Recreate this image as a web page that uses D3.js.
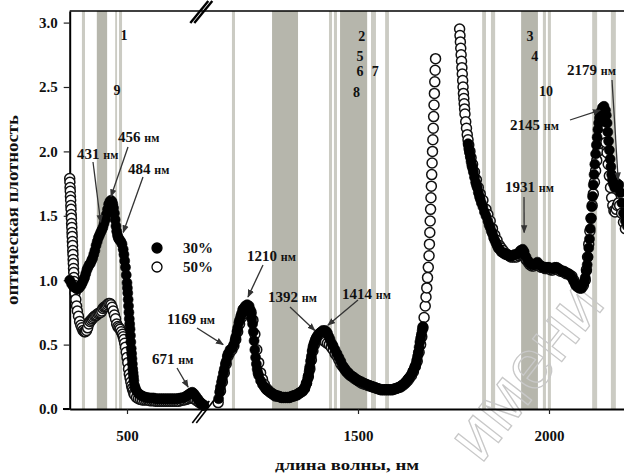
<!DOCTYPE html>
<html><head><meta charset="utf-8">
<script src="https://cdn.jsdelivr.net/npm/d3@7"></script>
<style>
body{margin:0;background:#fff}
svg{display:block}
text{font-family:"Liberation Serif","Times New Roman",serif;font-weight:bold;fill:#111}
</style>
</head><body>
<svg id="c" width="624" height="475"></svg>
<script>
// ---- data: [wavelength nm, optical density] ----
const s30_left = [[350,1.00],[355,0.97],[360,0.95],[365,0.94],[370,0.93],[375,0.94],[380,0.96],[383,0.98],[386,1.00],[389,1.02],[392,1.05],[395,1.08],[398,1.10],[401,1.12],[404,1.13],[407,1.15],[410,1.17],[413,1.20],[416,1.23],[419,1.27],[422,1.30],[425,1.33],[428,1.35],[431,1.37],[434,1.39],[437,1.41],[440,1.44],[443,1.47],[446,1.51],[449,1.55],[452,1.59],[455,1.61],[458,1.62],[461,1.61],[463,1.59],[465,1.56],[467,1.52],[469,1.47],[471,1.42],[473,1.38],[475,1.35],[477,1.33],[479,1.32],[481,1.31],[484,1.30],[487,1.28],[490,1.24],[492,1.20],[494,1.15],[496,1.10],[498,1.04],[500,0.98],[501,0.94],[502,0.90],[503,0.85],[504,0.80],[505,0.75],[506,0.70],[507,0.66],[508,0.62],[509,0.57],[510,0.52],[511,0.47],[512,0.43],[513,0.39],[514,0.35],[515,0.31],[516,0.28],[517,0.25],[518,0.22],[520,0.18],[522,0.16],[525,0.14],[530,0.12],[535,0.11],[540,0.10],[545,0.095],[550,0.09],[555,0.088],[560,0.085],[565,0.085],[570,0.085],[575,0.08],[580,0.08],[585,0.08],[590,0.08],[595,0.08],[600,0.08],[605,0.08],[610,0.08],[615,0.08],[620,0.08],[625,0.08],[630,0.08],[635,0.082],[640,0.085],[645,0.088],[650,0.09],[655,0.10],[660,0.11],[665,0.12],[668,0.125],[671,0.13],[675,0.12],[680,0.10],[685,0.08],[690,0.06],[695,0.04],[700,0.03]];
const s30_mid = [[1135,0.08],[1138,0.13],[1140,0.17],[1143,0.21],[1145,0.24],[1148,0.28],[1150,0.31],[1153,0.35],[1155,0.37],[1158,0.41],[1160,0.43],[1165,0.46],[1170,0.47],[1175,0.50],[1178,0.53],[1180,0.56],[1183,0.60],[1185,0.63],[1188,0.67],[1190,0.69],[1193,0.72],[1195,0.74],[1198,0.77],[1200,0.78],[1205,0.80],[1210,0.81],[1215,0.80],[1218,0.77],[1220,0.74],[1222,0.70],[1224,0.66],[1226,0.60],[1228,0.53],[1230,0.46],[1232,0.40],[1234,0.35],[1236,0.31],[1238,0.28],[1240,0.26],[1245,0.22],[1250,0.19],[1255,0.17],[1260,0.15],[1265,0.14],[1270,0.13],[1275,0.12],[1280,0.11],[1285,0.105],[1290,0.10],[1295,0.095],[1300,0.09],[1305,0.09],[1310,0.09],[1315,0.09],[1320,0.09],[1325,0.095],[1330,0.10],[1335,0.105],[1340,0.11],[1345,0.12],[1350,0.13],[1355,0.14],[1360,0.16],[1363,0.18],[1366,0.20],[1368,0.23],[1370,0.26],[1372,0.29],[1374,0.33],[1376,0.37],[1378,0.41],[1380,0.45],[1382,0.48],[1384,0.50],[1386,0.52],[1389,0.54],[1392,0.56],[1396,0.58],[1400,0.59],[1404,0.60],[1408,0.61],[1414,0.61],[1417,0.60],[1420,0.59],[1424,0.56],[1427,0.54],[1431,0.51],[1435,0.49],[1440,0.46],[1445,0.43],[1450,0.40],[1455,0.37],[1461,0.33],[1465,0.31],[1470,0.29],[1475,0.28],[1480,0.26],[1487,0.25],[1495,0.23],[1500,0.22],[1505,0.215],[1510,0.21],[1517,0.20],[1524,0.19],[1530,0.18],[1535,0.175],[1540,0.17],[1545,0.165],[1550,0.16],[1558,0.15],[1565,0.15],[1570,0.15],[1575,0.15],[1580,0.15],[1586,0.15],[1592,0.15],[1600,0.16],[1605,0.165],[1610,0.17],[1614,0.18],[1618,0.19],[1622,0.20],[1625,0.21],[1630,0.23],[1633,0.24],[1636,0.25],[1640,0.27],[1643,0.29],[1645,0.30],[1648,0.32],[1650,0.33],[1652,0.35],[1654,0.38],[1656,0.41],[1658,0.44],[1660,0.48],[1662,0.52],[1664,0.55],[1666,0.58],[1668,0.61],[1670,0.64]];
const s30_far = [[1788,2.06],[1790,2.02],[1792,1.99],[1794,1.96],[1796,1.92],[1798,1.89],[1800,1.87],[1802,1.84],[1805,1.80],[1808,1.76],[1810,1.74],[1812,1.72],[1815,1.68],[1818,1.65],[1820,1.63],[1823,1.60],[1827,1.57],[1831,1.53],[1835,1.50],[1840,1.46],[1843,1.43],[1846,1.41],[1849,1.38],[1852,1.36],[1855,1.33],[1858,1.31],[1861,1.29],[1864,1.27],[1867,1.25],[1870,1.24],[1875,1.22],[1880,1.21],[1885,1.20],[1890,1.20],[1895,1.19],[1900,1.19],[1905,1.19],[1910,1.20],[1915,1.20],[1920,1.21],[1925,1.23],[1931,1.24],[1935,1.22],[1940,1.18],[1945,1.15],[1950,1.13],[1955,1.12],[1960,1.12],[1965,1.13],[1970,1.14],[1975,1.12],[1980,1.11],[1985,1.10],[1990,1.10],[1995,1.10],[2000,1.10],[2005,1.09],[2010,1.09],[2015,1.10],[2020,1.10],[2025,1.09],[2030,1.08],[2035,1.07],[2040,1.07],[2045,1.06],[2050,1.05],[2055,1.04],[2060,1.02],[2065,0.99],[2070,0.96],[2075,0.95],[2080,0.94],[2085,0.94],[2090,0.97],[2093,0.99],[2095,1.02],[2098,1.07],[2100,1.12],[2102,1.18],[2104,1.25],[2106,1.32],[2108,1.40],[2110,1.48],[2112,1.57],[2114,1.65],[2116,1.74],[2118,1.82],[2120,1.90],[2122,1.98],[2124,2.05],[2126,2.11],[2128,2.17],[2130,2.22],[2132,2.26],[2134,2.29],[2136,2.31],[2140,2.34],[2144,2.35],[2148,2.32],[2150,2.28],[2152,2.22],[2154,2.15],[2156,2.08],[2158,2.01],[2160,1.94],[2162,1.88],[2164,1.82],[2166,1.78],[2168,1.75],[2172,1.72],[2176,1.73],[2179,1.75],[2183,1.74],[2187,1.68],[2191,1.60],[2195,1.52],[2200,1.46],[2205,1.42]];

const s50_left = [[350,1.79],[350.5,1.76],[351,1.72],[351.5,1.69],[352,1.65],[352.5,1.62],[353,1.58],[353.5,1.55],[354,1.51],[354.5,1.48],[355,1.44],[355.5,1.41],[356,1.37],[356.5,1.34],[357,1.30],[357.5,1.27],[358,1.23],[358.5,1.20],[359,1.16],[359.5,1.13],[360,1.09],[360.5,1.06],[361,1.02],[361.5,0.99],[362,0.96],[364,0.90],[366,0.85],[368,0.80],[370,0.76],[373,0.72],[376,0.68],[379,0.65],[382,0.63],[385,0.61],[388,0.60],[391,0.60],[394,0.61],[397,0.63],[400,0.66],[403,0.68],[406,0.69],[409,0.70],[412,0.71],[415,0.72],[418,0.725],[421,0.73],[424,0.74],[427,0.745],[431,0.75],[434,0.76],[437,0.78],[440,0.79],[443,0.795],[446,0.80],[449,0.81],[452,0.82],[455,0.82],[458,0.81],[461,0.79],[464,0.76],[467,0.73],[470,0.70],[473,0.66],[476,0.64],[479,0.63],[482,0.62],[485,0.60],[488,0.58],[490,0.56],[492,0.54],[494,0.51],[496,0.48],[498,0.44],[500,0.40],[502,0.36],[504,0.31],[506,0.27],[508,0.24],[510,0.21],[512,0.18],[514,0.16],[516,0.14],[518,0.12],[520,0.11],[525,0.09],[530,0.08],[535,0.075],[540,0.07],[545,0.07],[550,0.07],[555,0.07],[560,0.065],[565,0.065],[570,0.065],[575,0.06],[580,0.06],[585,0.06],[590,0.06],[595,0.06],[600,0.06],[605,0.06],[610,0.06],[615,0.06],[620,0.06],[625,0.06],[630,0.06],[635,0.06],[640,0.065],[645,0.07],[650,0.07],[655,0.075],[660,0.08],[665,0.085],[670,0.09],[675,0.08],[680,0.07],[685,0.06],[690,0.05],[695,0.04],[700,0.03]];
const s50_mid = [[1134,0.05],[1140,0.14],[1145,0.21],[1150,0.28],[1155,0.35],[1160,0.41],[1165,0.44],[1170,0.46],[1175,0.49],[1180,0.54],[1185,0.60],[1190,0.66],[1195,0.71],[1200,0.74],[1205,0.76],[1210,0.77],[1215,0.77],[1220,0.75],[1225,0.69],[1230,0.58],[1235,0.46],[1240,0.36],[1245,0.28],[1250,0.23],[1255,0.19],[1260,0.16],[1265,0.145],[1270,0.13],[1275,0.12],[1280,0.11],[1285,0.10],[1290,0.10],[1295,0.095],[1300,0.09],[1305,0.09],[1310,0.09],[1315,0.09],[1320,0.09],[1325,0.095],[1330,0.10],[1335,0.105],[1340,0.11],[1345,0.12],[1350,0.13],[1355,0.14],[1360,0.16],[1365,0.20],[1370,0.25],[1374,0.31],[1378,0.38],[1382,0.45],[1386,0.50],[1390,0.54],[1392,0.55],[1396,0.56],[1400,0.55],[1405,0.54],[1410,0.53],[1415,0.52],[1420,0.51],[1425,0.50],[1430,0.48],[1435,0.46],[1440,0.43],[1445,0.41],[1450,0.38],[1455,0.35],[1460,0.33],[1465,0.31],[1470,0.29],[1475,0.275],[1480,0.26],[1485,0.25],[1490,0.24],[1495,0.23],[1500,0.22],[1505,0.21],[1510,0.20],[1515,0.195],[1520,0.19],[1525,0.185],[1530,0.18],[1535,0.175],[1540,0.17],[1545,0.165],[1550,0.16],[1555,0.155],[1560,0.15],[1565,0.15],[1570,0.15],[1575,0.15],[1580,0.15],[1585,0.15],[1590,0.15],[1595,0.155],[1600,0.16],[1605,0.165],[1610,0.17],[1615,0.18],[1620,0.19],[1625,0.205],[1630,0.22],[1635,0.24],[1640,0.26],[1645,0.29],[1650,0.33],[1655,0.37],[1660,0.44],[1664,0.50],[1667,0.56],[1670,0.63],[1673,0.71],[1676,0.80],[1678,0.87],[1680,0.94],[1682,1.02],[1684,1.10],[1686,1.19],[1687,1.28],[1688,1.37],[1689,1.46],[1690,1.55],[1691,1.64],[1692,1.73],[1693,1.82],[1694,1.91],[1695,2.00],[1696,2.09],[1697,2.18],[1698,2.27],[1699,2.36],[1700,2.45],[1701,2.54],[1702,2.63],[1703,2.72]];
const s50_far = [[1766,2.95],[1767,2.90],[1768,2.85],[1769,2.80],[1770,2.75],[1771,2.70],[1772,2.65],[1773,2.60],[1774,2.55],[1775,2.50],[1776,2.45],[1777,2.41],[1778,2.37],[1779,2.33],[1780,2.29],[1782,2.23],[1784,2.18],[1786,2.13],[1788,2.09],[1790,2.05],[1793,2.00],[1796,1.95],[1800,1.90],[1805,1.84],[1810,1.78],[1815,1.72],[1820,1.67],[1827,1.62],[1835,1.55],[1840,1.51],[1846,1.46],[1852,1.40],[1858,1.35],[1864,1.31],[1870,1.27],[1875,1.25],[1880,1.23],[1885,1.21],[1890,1.20],[1895,1.19],[1900,1.18],[1905,1.18],[1910,1.18],[1915,1.18],[1920,1.19],[1925,1.20],[1931,1.21],[1935,1.19],[1940,1.16],[1945,1.14],[1950,1.12],[1955,1.11],[1960,1.11],[1965,1.12],[1970,1.12],[1975,1.11],[1980,1.10],[1985,1.10],[1990,1.09],[1995,1.09],[2000,1.09],[2005,1.08],[2010,1.08],[2015,1.09],[2020,1.09],[2025,1.08],[2030,1.07],[2035,1.07],[2040,1.06],[2045,1.05],[2050,1.05],[2055,1.04],[2060,1.03],[2065,1.00],[2070,0.97],[2075,0.95],[2080,0.94],[2085,0.94],[2090,0.96],[2095,1.00],[2098,1.08],[2101,1.18],[2104,1.28],[2107,1.38],[2110,1.48],[2113,1.58],[2116,1.67],[2119,1.76],[2122,1.85],[2125,1.93],[2128,2.00],[2131,2.06],[2134,2.11],[2137,2.14],[2140,2.16],[2143,2.16],[2146,2.13],[2149,2.07],[2152,1.99],[2155,1.90],[2158,1.81],[2161,1.72],[2164,1.64],[2167,1.58],[2170,1.54],[2173,1.53],[2176,1.55],[2179,1.58],[2182,1.60],[2185,1.58],[2190,1.52],[2195,1.45],[2200,1.40]];

// shaded wavelength bands [from, to]
const bandsDark  = [[421,448],[1275,1343],[1453,1524],[1927,1971]];
const bandsLight = [[382,390],[469,474],[479,487],[1170,1178],[1424,1432],[1437,1445],[1534,1547],[1571,1581],[1825,1835],[1848,1859],[1984,1992],[1997,2005],[2113,2126],[2162,2175]];

const yTicks = [0,0.5,1.0,1.5,2.0,2.5,3.0];
const xTicks = [500,1500,2000];
const seriesNames = ['30%','50%'];

// peak annotations: label, anchor [nm, OD]
const annoLabels = ['431','456','484','671','1169','1210','1392','1414','1931','2145','2179'];
const annoAnchors = [[431,1.45],[458,1.65],[490,1.37],[660,0.17],[1147,0.50],[1212,0.87],[1387,0.61],[1421,0.65],[1935,1.37],[2134,2.32],[2181,1.78]];
// band numbers: label, anchor [nm, OD]
const numLabels = ['1','9','2','5','6','7','8','3','4','10'];
const numAnchors = [[492,2.865],[474,2.44],[1510,2.857],[1505,2.70],[1505,2.585],[1545,2.585],[1496,2.42],[1950,2.857],[1963,2.70],[1992,2.43]];

// ---- layout ----
const annoTail = [[93,162],[128,147],[143,177],[177,368],[197,328],[263,265],[290,307],[358,300],[524,197],[570,120],[612,80]];
const annoText = [[77,159],[118,142],[128,174],[152,364],[167,324],[247,261],[268,302],[342,299],[505,192],[510,130],[567,75]];

const svg = d3.select('#c');
const x = d3.scaleLinear().domain([350,700,1100,2250]).range([69.7,203.4,205.2,644.5]);
const y = d3.scaleLinear().domain([0,3.09]).range([409,11]);
const x0 = x(350), yTop = y(3.09), yBot = y(0);

// bands
const gB = svg.append('g');
gB.selectAll('rect.l').data(bandsLight).join('rect').attr('class','l')
  .attr('x',d=>x(d[0])).attr('width',d=>x(d[1])-x(d[0])).attr('y',yTop).attr('height',yBot-yTop)
  .attr('fill','#cbcbc3');
gB.selectAll('rect.d').data(bandsDark).join('rect').attr('class','d')
  .attr('x',d=>x(d[0])).attr('width',d=>x(d[1])-x(d[0])).attr('y',yTop).attr('height',yBot-yTop)
  .attr('fill','#b6b6ac');

// watermark (faint, behind the data)
svg.append('text').attr('transform','translate(481,465) rotate(-52)')
  .style('font-family','"Liberation Sans",sans-serif').style('font-weight','normal').style('font-size','70px')
  .style('fill','none').attr('stroke','#c8c8c8').attr('stroke-width',1.3)
  .text('имени');

// axes
const gy = svg.append('g').attr('transform',`translate(${x0},0)`)
  .call(d3.axisLeft(y).tickValues(yTicks).tickFormat(d3.format('.1f')).tickSize(6).tickPadding(6).tickSizeOuter(0));
const gx = svg.append('g').attr('transform',`translate(0,${yBot})`)
  .call(d3.axisBottom(x).tickValues(xTicks).tickFormat(d3.format('d')).tickSize(5).tickPadding(16).tickSizeOuter(0));
[gy,gx].forEach(g=>{
  g.select('.domain').attr('stroke','#000').attr('stroke-width',2);
  g.selectAll('.tick line').attr('stroke','#222').attr('stroke-width',1.2);
  g.selectAll('.tick text').style('font-size','15px').style('font-family','"Liberation Serif",serif').style('font-weight','bold').attr('fill','#111');
});
svg.append('line').attr('x1',63).attr('x2',x0).attr('y1',yBot).attr('y2',yBot).attr('stroke','#000').attr('stroke-width',2);
svg.append('line').attr('x1',x0).attr('x2',624).attr('y1',yTop).attr('y2',yTop).attr('stroke','#000').attr('stroke-width',1.6);

// series: 50% (open) first, 30% (filled) on top
const r = 5;
const g50 = svg.append('g');
g50.selectAll('circle').data([].concat(s50_left,s50_mid,s50_far)).join('circle')
  .attr('cx',d=>x(d[0])).attr('cy',d=>y(d[1])).attr('r',r).attr('fill','#fff').attr('stroke','#111').attr('stroke-width',1.5);
const g30 = svg.append('g');
g30.selectAll('circle').data([].concat(s30_left,s30_mid,s30_far)).join('circle')
  .attr('cx',d=>x(d[0])).attr('cy',d=>y(d[1])).attr('r',r).attr('fill','#000').attr('stroke','#000').attr('stroke-width',0.6);

// axis break marks
const xb = (x(700)+x(1100))/2;
[0,4].forEach(o=>{
  svg.append('line').attr('x1',xb-14+o).attr('y1',yTop+12).attr('x2',xb+4+o).attr('y2',yTop-10).attr('stroke','#000').attr('stroke-width',2.4);
  svg.append('line').attr('x1',xb-12+o).attr('y1',yBot+14).attr('x2',xb+5+o).attr('y2',yBot-8).attr('stroke','#000').attr('stroke-width',1.6);
});

// legend
const lg = svg.append('g');
const legY = [248,267];
lg.selectAll('circle').data(seriesNames).join('circle')
  .attr('cx',157).attr('cy',(d,i)=>legY[i]).attr('r',5)
  .attr('fill',(d,i)=>i?'#fff':'#000').attr('stroke','#000').attr('stroke-width',1.3);
lg.selectAll('text').data(seriesNames).join('text')
  .attr('x',183).attr('y',(d,i)=>legY[i]+5).style('font-size','15px').text(d=>d);

// annotations
svg.append('defs').append('marker').attr('id','ah').attr('viewBox','0 0 10 10')
  .attr('refX',9).attr('refY',5).attr('markerWidth',8).attr('markerHeight',8)
  .attr('markerUnits','userSpaceOnUse').attr('orient','auto')
  .append('path').attr('d','M0,1 L10,5 L0,9 Z').attr('fill','#333');
const ga = svg.append('g');
annoLabels.forEach((lab,i)=>{
  const [wx,wy] = annoAnchors[i];
  ga.append('line').attr('x1',annoTail[i][0]).attr('y1',annoTail[i][1])
    .attr('x2',x(wx)).attr('y2',y(wy)).attr('stroke','#333').attr('stroke-width',1.3)
    .attr('marker-end','url(#ah)');
  const t = ga.append('text').attr('x',annoText[i][0]).attr('y',annoText[i][1]).style('font-size','15px');
  t.append('tspan').text(lab+' ');
  t.append('tspan').style('font-size','12px').text('нм');
});

// band numbers
svg.append('g').selectAll('text').data(numLabels).join('text')
  .attr('x',(d,i)=>x(numAnchors[i][0])).attr('y',(d,i)=>y(numAnchors[i][1]))
  .attr('text-anchor','middle').style('font-size','14px').text(d=>d);

// axis titles
svg.append('text').attr('x',275).attr('y',470).attr('textLength',144).attr('lengthAdjust','spacingAndGlyphs')
  .style('font-size','15px').text('длина волны, нм');
svg.append('text').attr('transform','translate(18,210) rotate(-90)').attr('text-anchor','middle')
  .attr('textLength',190).attr('lengthAdjust','spacingAndGlyphs')
  .style('font-size','16px').text('оптическая плотность');
</script>
</body></html>
